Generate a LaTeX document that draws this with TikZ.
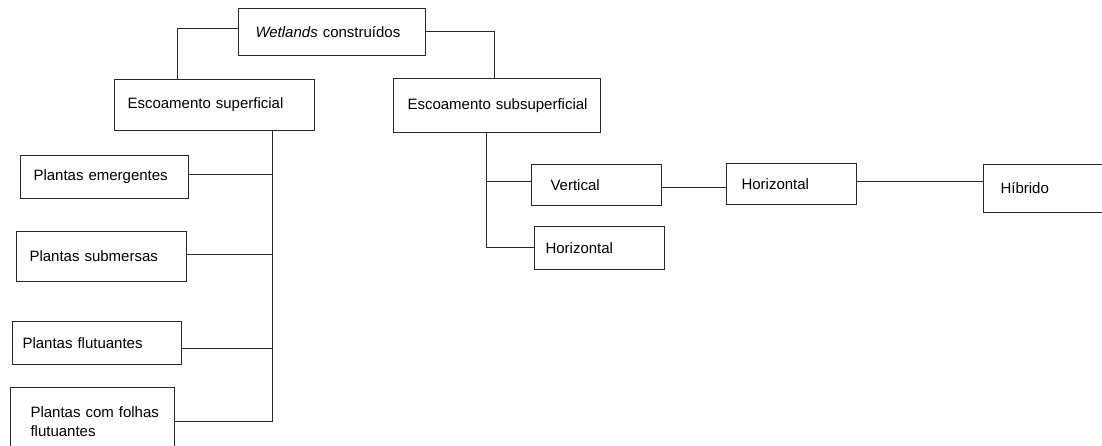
\documentclass[tikz,border=0pt]{standalone}
\usepackage{fontspec}
\setmainfont{Liberation Sans}
\usepackage{tikz}
\usetikzlibrary{positioning, calc}
\definecolor{Traco}{RGB}{40, 40, 40}

\begin{document}
\begin{tikzpicture}[x=1pt, y=-1pt,
	caixa/.style={draw=Traco, line width=1pt, anchor=north west, align=left,
		inner xsep=0pt, inner ysep=0pt, font=\fontsize{15}{19}\selectfont},
	liga/.style={draw=Traco, line width=1pt}]
	\useasboundingbox (0,0) rectangle (1102,446);
	\node[caixa, text width=187pt, minimum height=47pt] (wet) at (238,8) {\hspace*{17pt}\textit{Wetlands} construídos};
	\node[caixa, text width=200pt, minimum height=51pt] (sup) at (114,79) {\hspace*{13pt}Escoamento superficial};
	\node[caixa, text width=207pt, minimum height=54pt] (sub) at (393,78) {\hspace*{14pt}Escoamento subsuperficial};
	\node[caixa, text width=168pt, minimum height=43pt] (eme) at (20,155) {\hspace*{13pt}Plantas emergentes};
	\node[caixa, text width=170pt, minimum height=50pt] (sbm) at (16,231) {\hspace*{13pt}Plantas submersas};
	\node[caixa, text width=169pt, minimum height=43pt] (flu) at (12,321) {\hspace*{10pt}Plantas flutuantes};
	\node[caixa, text width=164pt, minimum height=68pt] (fol) at (10,387) {\hspace*{20pt}Plantas com folhas\\\hspace*{20pt}flutuantes};
	\node[caixa, text width=130pt, minimum height=41pt] (ver) at (531,164) {\hspace*{19pt}Vertical};
	\node[caixa, text width=130pt, minimum height=43pt] (hor) at (534,226) {\hspace*{11pt}Horizontal};
	\node[caixa, text width=130pt, minimum height=41pt] (hzt) at (726,163) {\hspace*{15pt}Horizontal};
	\node[caixa, text width=130pt, minimum height=48pt] (hib) at (983,164) {\hspace*{17pt}Híbrido};
	\coordinate (tronco) at ([xshift=158pt]sup.south west);
	\coordinate (ramo) at ([xshift=93pt]sub.south west);
	\draw[liga] ([yshift=3.5pt]wet.west) -| ([xshift=63pt]sup.north west);
	\draw[liga] (wet.east) -| ([xshift=101pt]sub.north west);
	\draw[liga] (tronco) |- (fol.east);
	\foreach \n/\d in {eme/2.5, sbm/2, flu/-5.5}
		\draw[liga] ([yshift=\d pt]\n.east) -- ([yshift=\d pt]\n.east -| tronco);
	\draw[liga] (ramo) |- (hor.west);
	\draw[liga] ([yshift=3pt]ver.west) -- ([yshift=3pt]ver.west -| ramo);
	\draw[liga] ([yshift=-2.5pt]ver.east) -- ([yshift=-2.5pt]ver.east -| hzt.west);
	\draw[liga] ([yshift=2.5pt]hzt.east) -- ([yshift=2.5pt]hzt.east -| hib.west);
\end{tikzpicture}
\end{document}
